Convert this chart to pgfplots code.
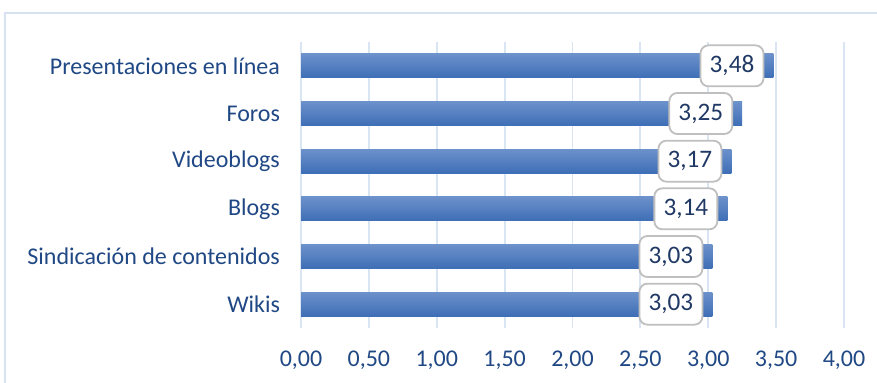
\documentclass[border=0pt]{standalone}
\usepackage{pgfplots}
\pgfplotsset{compat=1.18}
\usepackage{fontspec}
\setmainfont{Carlito}
\definecolor{framec}{RGB}{214,226,242}
\definecolor{gridc}{RGB}{218,229,244}
\definecolor{txtc}{RGB}{32,72,132}
\definecolor{lblc}{RGB}{31,56,100}
\definecolor{bartop}{RGB}{108,145,203}
\definecolor{barbot}{RGB}{62,110,182}
\definecolor{boxc}{RGB}{191,191,191}
\begin{document}
\begin{tikzpicture}
\useasboundingbox (0,0) rectangle (438.5pt,191.5pt);
\draw[framec, line width=1pt] (2.5pt,-2pt) -- (2.5pt,185pt) -- (442pt,185pt);
\begin{axis}[
  at={(150.5pt,27.5pt)}, anchor=south west,
  scale only axis, width=271.5pt, height=143pt,
  xmin=0, xmax=4, ymin=0.5, ymax=6.5,
  axis line style={draw=none},
  xtick={0,0.5,...,4}, ytick={1,...,6},
  yticklabels={Wikis,Sindicación de contenidos,Blogs,Videoblogs,Foros,Presentaciones en línea},
  xmajorgrids, major grid style={gridc, line width=0.9pt},
  major tick length=0pt,
  tick label style={font=\fontsize{12}{13}\selectfont, text=txtc},
  xticklabel={\pgfmathprintnumber[assume math mode=true,fixed,fixed zerofill,precision=2,use comma]{\tick}},
  xticklabel style={yshift=-8pt},
  yticklabel style={xshift=-7pt},
  clip=false,
  xbar, bar width=12pt, bar shift=0pt,
  nodes near coords={\pgfmathprintnumber[assume math mode=true,fixed,fixed zerofill,precision=2,use comma]{\pgfplotspointmeta}},
  point meta=x,
  nodes near coords style={anchor=east, xshift=-4.5pt, fill=white, draw=boxc, line width=0.9pt, rounded corners=4pt,
     minimum width=31.5pt, minimum height=20.5pt, inner sep=1pt, text=lblc, font=\fontsize{12.6}{14}\selectfont},
  every axis plot/.append style={draw=none, top color=bartop, bottom color=barbot},
]
\addplot coordinates {(3.03,1)};
\addplot coordinates {(3.03,2)};
\addplot coordinates {(3.14,3)};
\addplot coordinates {(3.17,4)};
\addplot coordinates {(3.25,5)};
\addplot coordinates {(3.48,6)};
\end{axis}
\end{tikzpicture}
\end{document}
